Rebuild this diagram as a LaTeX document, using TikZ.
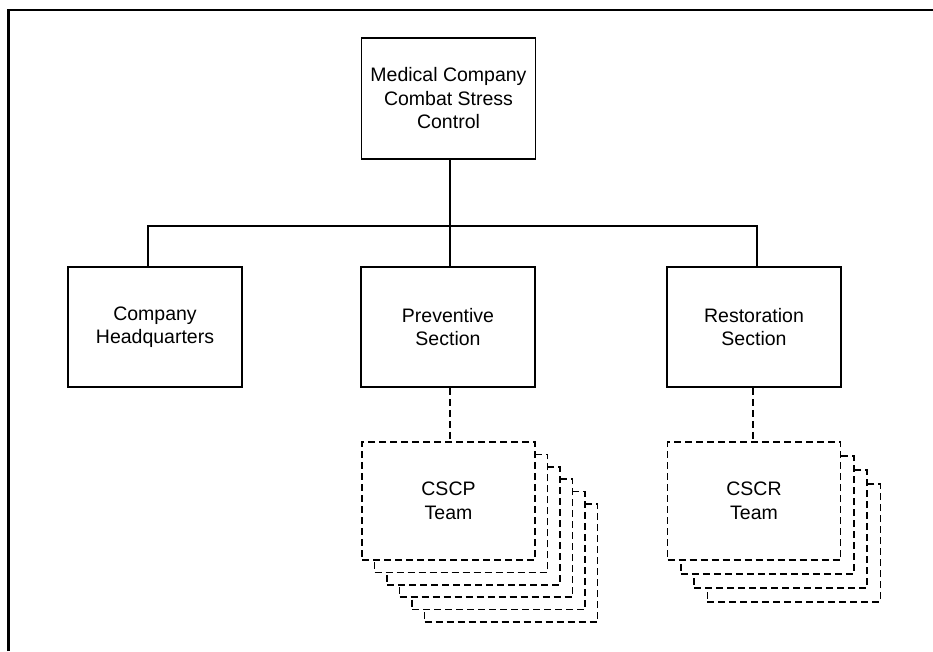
\documentclass[tikz,border=0pt]{standalone}
\usepackage{fontspec}
\setmainfont{Liberation Sans}
\usepackage{tikz}
\usetikzlibrary{positioning}

\tikzset{
  unitbox/.style={draw, line width=1.5pt, fill=white, minimum width=174pt, minimum height=120pt,
    align=center, inner sep=0pt, font=\fontsize{19.5}{23.5}\selectfont},
  teambox/.style={unitbox, dash pattern=on 7pt off 4pt, minimum width=173pt, minimum height=118pt}
}

\begin{document}
\begin{tikzpicture}[x=1pt,y=-1pt]

\useasboundingbox (0,0) rectangle (933,651);

% Moldura
\draw[line width=2.5pt] (8.5,651) -- (8.5,10) -- (933,10);

% Comando
\node[unitbox, minimum height=121pt] (mccsc) at (448.5,98.5) {Medical Company\\Combat Stress\\Control};

% Seções
\node[unitbox] (hq) at (155,327) {Company\\Headquarters};
\node[unitbox] (prev) at (448,327) {Preventive\\Section};
\node[unitbox] (rest) at (754,327) {Restoration\\Section};

% Equipes CSCP (pilha)
\foreach \i in {5,4,...,1}
  \node[teambox] at (448.5+12.5*\i,501+12.4*\i) {};
\node[teambox] (cscp) at (448.5,501) {CSCP\\Team};

% Equipes CSCR (pilha)
\foreach \i in {3,2,1}
  \node[teambox] at (754+13.3*\i,501+14*\i) {};
\node[teambox] (cscr) at (754,501) {CSCR\\Team};

% Ligações
\coordinate (bus) at (450,226);
\draw[line width=1.5pt] ([xshift=1.5]mccsc.south) -- (bus);
\draw[line width=1.5pt] ([xshift=-7]hq.north) |- (bus) -| ([xshift=3]rest.north);
\draw[line width=1.5pt] ([xshift=2]prev.north) -- ([xshift=2]prev.north |- bus);
\draw[line width=1.5pt, dash pattern=on 7pt off 4pt] ([xshift=2]prev.south) -- ([xshift=1.5]cscp.north);
\draw[line width=1.5pt, dash pattern=on 7pt off 4pt] ([xshift=-1]rest.south) -- ([xshift=-1]cscr.north);

\end{tikzpicture}
\end{document}
